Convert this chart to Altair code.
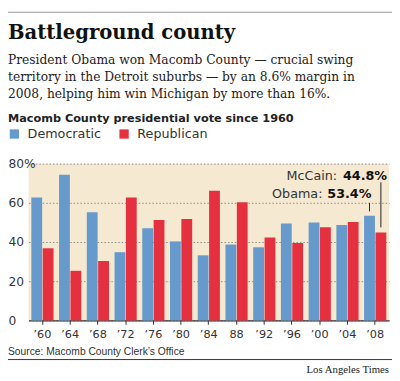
import altair as alt
import pandas as pd

# ---- data ----
years = ["’60", "’64", "’68", "’72", "’76", "’80", "’84", "88", "’92", "’96", "’00", "’04", "’08"]
democratic = [62.7, 74.3, 55.2, 34.8, 47.0, 40.3, 33.2, 38.7, 37.3, 49.5, 50.0, 48.7, 53.4]
republican = [36.8, 25.3, 30.3, 62.7, 51.2, 51.8, 66.2, 60.3, 42.3, 39.5, 47.5, 50.2, 44.8]
parties = ["Democratic", "Republican"]
party_colors = ["#6699CC", "#E4303F"]
y_ticks = [0, 20, 40, 60, 80]

title_text = "Battleground county"
subtitle_lines = [
    "President Obama won Macomb County — crucial swing",
    "territory in the Detroit suburbs — by an 8.6% margin in",
    "2008, helping him win Michigan by more than 16%.",
]
section_text = "Macomb County presidential vote since 1960"
source_text = "Source: Macomb County Clerk’s Office"
credit_text = "Los Angeles Times"

ann_names = ["McCain:", "Obama:"]
ann_values = ["44.8%", "53.4%"]
ann_party = ["Republican", "Democratic"]
ann_line_top = [70.5, 60.0]
ann_line_bottom = [47.5, 55.6]

# ---- tables ----
rows = []
for i, yr in enumerate(years):
    rows.append({"year": yr, "party": "Democratic", "value": democratic[i]})
    rows.append({"year": yr, "party": "Republican", "value": republican[i]})
bars_df = pd.DataFrame(rows)

ann_df = pd.DataFrame({
    "year": ["’08", "’08"],
    "party": ann_party,
    "value": ann_line_top,
    "bottom": ann_line_bottom,
})
one = pd.DataFrame({"k": [0]})

SANS = "DejaVu Sans"
SERIF = "DejaVu Serif"

x_axis = alt.Axis(title=None, labelAngle=0, domain=True, domainColor="#333",
                  domainWidth=1.5, ticks=True, tickSize=4, tickColor="#333",
                  tickWidth=1, labelFont=SANS, labelFontSize=11.5,
                  labelColor="#333", labelPadding=4, grid=False)
x_scale = alt.Scale(paddingInner=0.2, paddingOuter=0.1)
y_axis = alt.Axis(title=None, values=y_ticks, tickCount=5, domain=False, ticks=False,
                  tickSize=0, grid=True, gridDash=[1.5, 2], gridColor="#8a8a8a",
                  gridWidth=1, labelAlign="left", labelBaseline="middle",
                  labelOverlap=False, labelFlush=False,
                  labelPadding=21, labelFont=SANS, labelFontSize=12.5,
                  labelColor="#333",
                  labelExpr="datum.value == 80 ? '80%' : datum.label")
y_scale = alt.Scale(domain=[0, 80], nice=False)
xo_enc = alt.XOffset("party:N", sort=parties, scale=alt.Scale(paddingInner=0.05))

bars = alt.Chart(bars_df).mark_bar().encode(
    x=alt.X("year:N", sort=years, scale=x_scale, axis=x_axis),
    xOffset=xo_enc,
    y=alt.Y("value:Q", scale=y_scale, axis=y_axis),
    color=alt.Color("party:N",
                    scale=alt.Scale(domain=parties, range=party_colors),
                    legend=alt.Legend(orient="none", legendX=-21, legendY=-37,
                                      direction="horizontal", title=None,
                                      symbolType="square", symbolSize=90,
                                      symbolStrokeWidth=0, symbolOpacity=1,
                                      labelFont=SANS, labelFontSize=13,
                                      labelColor="#333", columnPadding=17,
                                      labelOffset=7, padding=0)),
)

leaders = alt.Chart(ann_df).mark_rule(color="#222", strokeWidth=1).encode(
    x=alt.X("year:N", sort=years, scale=x_scale, axis=x_axis),
    xOffset=xo_enc,
    y=alt.Y("value:Q", scale=y_scale, axis=y_axis),
    y2="bottom:Q",
)

def txt(text, x, y, size, font, weight="normal", align="left", color="#222",
        baseline="alphabetic", line_height=None):
    kw = dict(align=align, baseline=baseline, font=font, fontSize=size,
              fontWeight=weight, color=color)
    if line_height is not None:
        kw["lineHeight"] = line_height
    return alt.Chart(one).mark_text(**kw).encode(
        x=alt.value(x), y=alt.value(y), text=alt.value(text))

top_bar = alt.Chart(one).mark_rect(color="#9a9a9a").encode(
    x=alt.value(-21), x2=alt.value(371), y=alt.value(-155), y2=alt.value(-154))

title = txt(title_text, -21, -127, 20, SERIF, weight="bold", color="#111")
subtitle = txt(subtitle_lines, -21, -102, 12.5, SERIF, color="#222", line_height=17.5)
section = txt(section_text, -21, -43, 11.5, SANS, weight="bold", color="#222")

mc_name = txt(ann_names[0], 315, 17, 13, SANS, align="right", color="#333")
mc_val = txt(ann_values[0], 366, 17, 13, SANS, weight="bold", align="right", color="#111")
ob_name = txt(ann_names[1], 300, 35, 13, SANS, align="right", color="#333")
ob_val = txt(ann_values[1], 350, 35, 13, SANS, weight="bold", align="right", color="#111")

source = txt(source_text, -21, 195, 10.5, "Liberation Sans", color="#333")
sep = alt.Chart(one).mark_rule(color="#333", strokeWidth=1).encode(
    x=alt.value(-21), x2=alt.value(371), y=alt.value(200))
credit = txt(credit_text, 368, 214, 11, "Liberation Serif", align="right", color="#222")

chart = alt.layer(
    bars, leaders, top_bar, title, subtitle, section,
    mc_name, mc_val, ob_name, ob_val, source, sep, credit,
).properties(
    width=368, height=160,
    autosize=alt.AutoSizeParams(type="none"),
    padding={"left": 21, "top": 155, "right": 3, "bottom": 58},
    background="white",
).configure_view(fill="#F5E9D2", strokeWidth=0)

chart.save("out.html", embed_options={"renderer": "svg", "actions": False})
